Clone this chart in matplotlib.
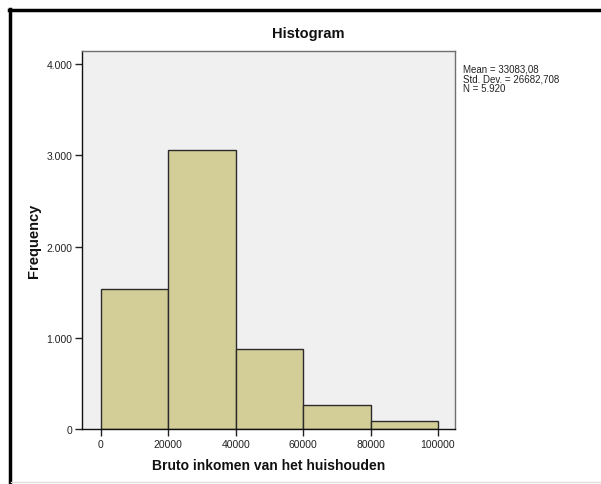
import matplotlib
matplotlib.use("Agg")
import matplotlib.pyplot as plt
from matplotlib.lines import Line2D

bin_edges = [0, 20000, 40000, 60000, 80000, 100000]
frequencies = [1535, 3055, 877, 266, 83]
xtick_values = [0, 20000, 40000, 60000, 80000, 100000]
xtick_labels = ["0", "20000", "40000", "60000", "80000", "100000"]
ytick_values = [0, 1000, 2000, 3000, 4000]
ytick_labels = ["0", "1.000", "2.000", "3.000", "4.000"]
stats_lines = ["Mean = 33083,08", "Std. Dev. = 26682,708", "N = 5.920"]

plt.rcParams['font.family'] = ['Liberation Sans', 'DejaVu Sans']

W, H = 601, 485
fig = plt.figure(figsize=(W / 100, H / 100), dpi=100)
fig.patch.set_facecolor("white")

ax = fig.add_axes([82 / W, 1 - 430 / H, (455 - 82) / W, (430 - 52) / H])
ax.set_facecolor("#f0f0f0")

lefts = bin_edges[:-1]
widths = [bin_edges[i + 1] - bin_edges[i] for i in range(len(lefts))]
ax.bar(lefts, frequencies, width=widths, align="edge",
       color="#d3ce97", edgecolor="#2b2b2b", linewidth=1.0, zorder=2)

ax.set_xlim(-5575, 105040)
ax.set_ylim(0, 4145)
ax.set_xticks(xtick_values)
ax.set_xticklabels(xtick_labels)
ax.set_yticks(ytick_values)
ax.set_yticklabels(ytick_labels)
ax.tick_params(axis="both", direction="out", length=5, width=1, color="#222222",
               labelsize=7.5, labelcolor="#222222", pad=2)

for s in ["left", "bottom"]:
    ax.spines[s].set_color("#111111")
    ax.spines[s].set_linewidth(1.0)
for s in ["top", "right"]:
    ax.spines[s].set_color("#707070")
    ax.spines[s].set_linewidth(1.0)

fig.text(308 / W, 1 - 34 / H, "Histogram", ha="center", va="center",
         fontsize=10.5, fontweight="bold", color="#111111")
fig.text(34 / W, 1 - 241 / H, "Frequency", ha="center", va="center",
         rotation=90, fontsize=10.5, fontweight="bold", color="#111111")
fig.text(269 / W, 1 - 466 / H, "Bruto inkomen van het huishouden", ha="center",
         va="center", fontsize=10, fontweight="bold", color="#111111")
fig.text(463 / W, 1 - 65 / H, "\n".join(stats_lines), ha="left", va="top",
         fontsize=7, color="#222222", linespacing=0.92)

# outer frame
fig.add_artist(Line2D([9.5 / W, 9.5 / W], [1 - 10 / H, 0], transform=fig.transFigure,
                      color="black", linewidth=2.5))
fig.add_artist(Line2D([9 / W, 1], [1 - 10.5 / H, 1 - 10.5 / H], transform=fig.transFigure,
                      color="black", linewidth=2.5))
fig.add_artist(Line2D([11 / W, 1], [1 - 482.5 / H, 1 - 482.5 / H], transform=fig.transFigure,
                      color="#e0e0e0", linewidth=1.0))

fig.savefig("out.png", dpi=100)
